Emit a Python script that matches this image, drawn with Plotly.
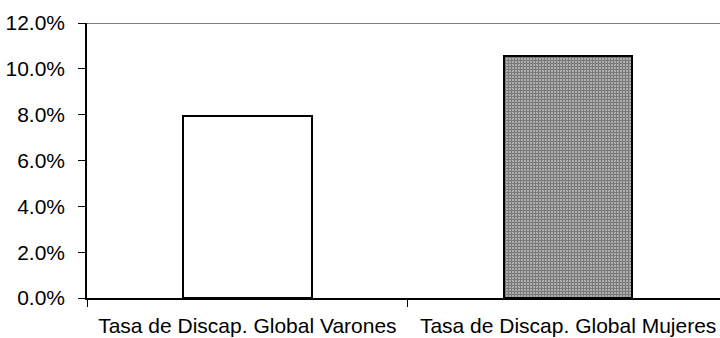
import plotly.graph_objects as go

# Global disability rates by sex
categories = ["Tasa de Discap. Global Varones", "Tasa de Discap. Global Mujeres"]
rates = [0.0794, 0.1056]
tick_values = [0, 0.02, 0.04, 0.06, 0.08, 0.10, 0.12]

fig = go.Figure()
fig.add_trace(go.Bar(
    x=categories,
    y=rates,
    width=0.40,
    marker=dict(
        color=["#ffffff", "#b0b0b0"],
        line=dict(color="#000000", width=2),
        pattern=dict(
            shape=["", "+"],
            fillmode="overlay",
            fgcolor="#ffffff",
            size=3,
            solidity=0.6,
        ),
    ),
    hoverinfo="skip",
))

# Top border of the plotting area at the axis maximum
fig.add_shape(type="line", xref="paper", yref="y", x0=0, x1=1,
              y0=tick_values[-1], y1=tick_values[-1],
              line=dict(color="#808080", width=2))

fig.update_layout(
    width=720, height=338,
    margin=dict(l=86.5, r=0, t=23, b=39.5),
    paper_bgcolor="#ffffff",
    plot_bgcolor="#ffffff",
    showlegend=False,
    font=dict(family="Liberation Sans, Arial, sans-serif", size=21, color="#000000"),
    bargap=0,
)
fig.update_xaxes(
    range=[-0.5, 1.4735],
    showline=True, linecolor="#000000", linewidth=1.5,
    ticks="outside", ticklen=7, tickcolor="#000000", tickwidth=1.2,
    tickson="boundaries",
    showgrid=False, zeroline=False,
    ticklabelstandoff=8,
    tickfont=dict(size=21),
)
fig.update_yaxes(
    range=[0, tick_values[-1]],
    tickvals=tick_values,
    tickformat=".1%",
    showline=True, linecolor="#000000", linewidth=1.5,
    ticks="outside", ticklen=7, tickcolor="#000000", tickwidth=1.2,
    showgrid=False, zeroline=False,
    ticklabelstandoff=9,
    tickfont=dict(size=21),
)

fig.write_html("out.html")
